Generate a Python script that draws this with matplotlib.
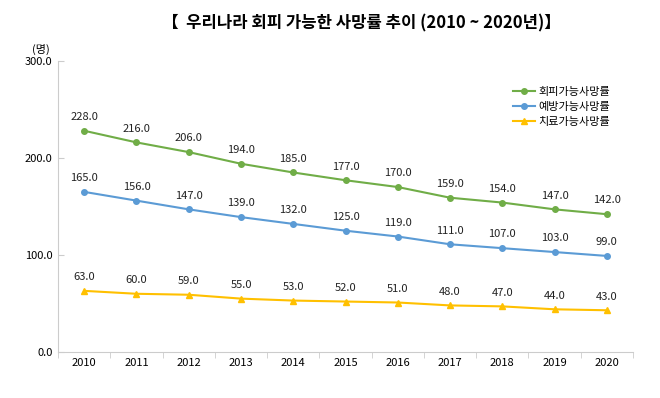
import matplotlib.pyplot as plt

plt.rcParams['font.family'] = ['Noto Sans CJK KR', 'DejaVu Sans']

years = ['2010', '2011', '2012', '2013', '2014', '2015', '2016', '2017', '2018', '2019', '2020']
avoidable = [228.0, 216.0, 206.0, 194.0, 185.0, 177.0, 170.0, 159.0, 154.0, 147.0, 142.0]
preventable = [165.0, 156.0, 147.0, 139.0, 132.0, 125.0, 119.0, 111.0, 107.0, 103.0, 99.0]
treatable = [63.0, 60.0, 59.0, 55.0, 53.0, 52.0, 51.0, 48.0, 47.0, 44.0, 43.0]

series = [
    ('회피가능사망률', avoidable, '#70ad47', 'o'),
    ('예방가능사망률', preventable, '#5b9bd5', 'o'),
    ('치료가능사망률', treatable, '#ffc000', '^'),
]

fig = plt.figure(figsize=(6.6, 3.98), dpi=100)
ax = fig.add_axes([0.088, 0.1156, 0.871, 0.7314])

x = range(len(years))
for name, vals, color, mk in series:
    ax.plot(x, vals, color=color, marker=mk, markersize=4, linewidth=1.5, label=name)
    for xi, v in zip(x, vals):
        ax.text(xi, v + 9, f'{v:.1f}', ha='center', va='bottom', fontsize=8, color='#222222')

ax.set_xlim(-0.5, len(years) - 0.5)
ax.set_ylim(0, 300)
ax.set_yticks([0, 100, 200, 300])
ax.set_yticklabels([f'{t:.1f}' for t in [0, 100, 200, 300]], fontsize=8)
ax.set_xticks(list(x))
ax.set_xticklabels(years, fontsize=8)
ax.set_xticks([i + 0.5 for i in range(-1, len(years))], minor=True)
ax.tick_params(axis='x', which='major', length=0, pad=4)
ax.tick_params(axis='x', which='minor', length=4, color='#cccccc')
ax.tick_params(axis='y', length=4, color='#cccccc', direction='in', pad=4)

for s in ['top', 'right']:
    ax.spines[s].set_visible(False)
for s in ['left', 'bottom']:
    ax.spines[s].set_color('#cccccc')

ax.text(-0.03, 1.02, '(명)', transform=ax.transAxes, fontsize=8, ha='center', va='bottom')

ax.legend(loc='upper right', bbox_to_anchor=(0.97, 0.93), frameon=False, fontsize=8,
          handlelength=2.0, labelspacing=0.45, handletextpad=0.3, borderpad=0)

fig.text(0.548, 0.94, '【  우리나라 회피 가능한 사망률 추이 (2010 ~ 2020년)】', ha='center', va='center',
         fontsize=12, fontweight='bold')

fig.savefig('out.png', dpi=100)
